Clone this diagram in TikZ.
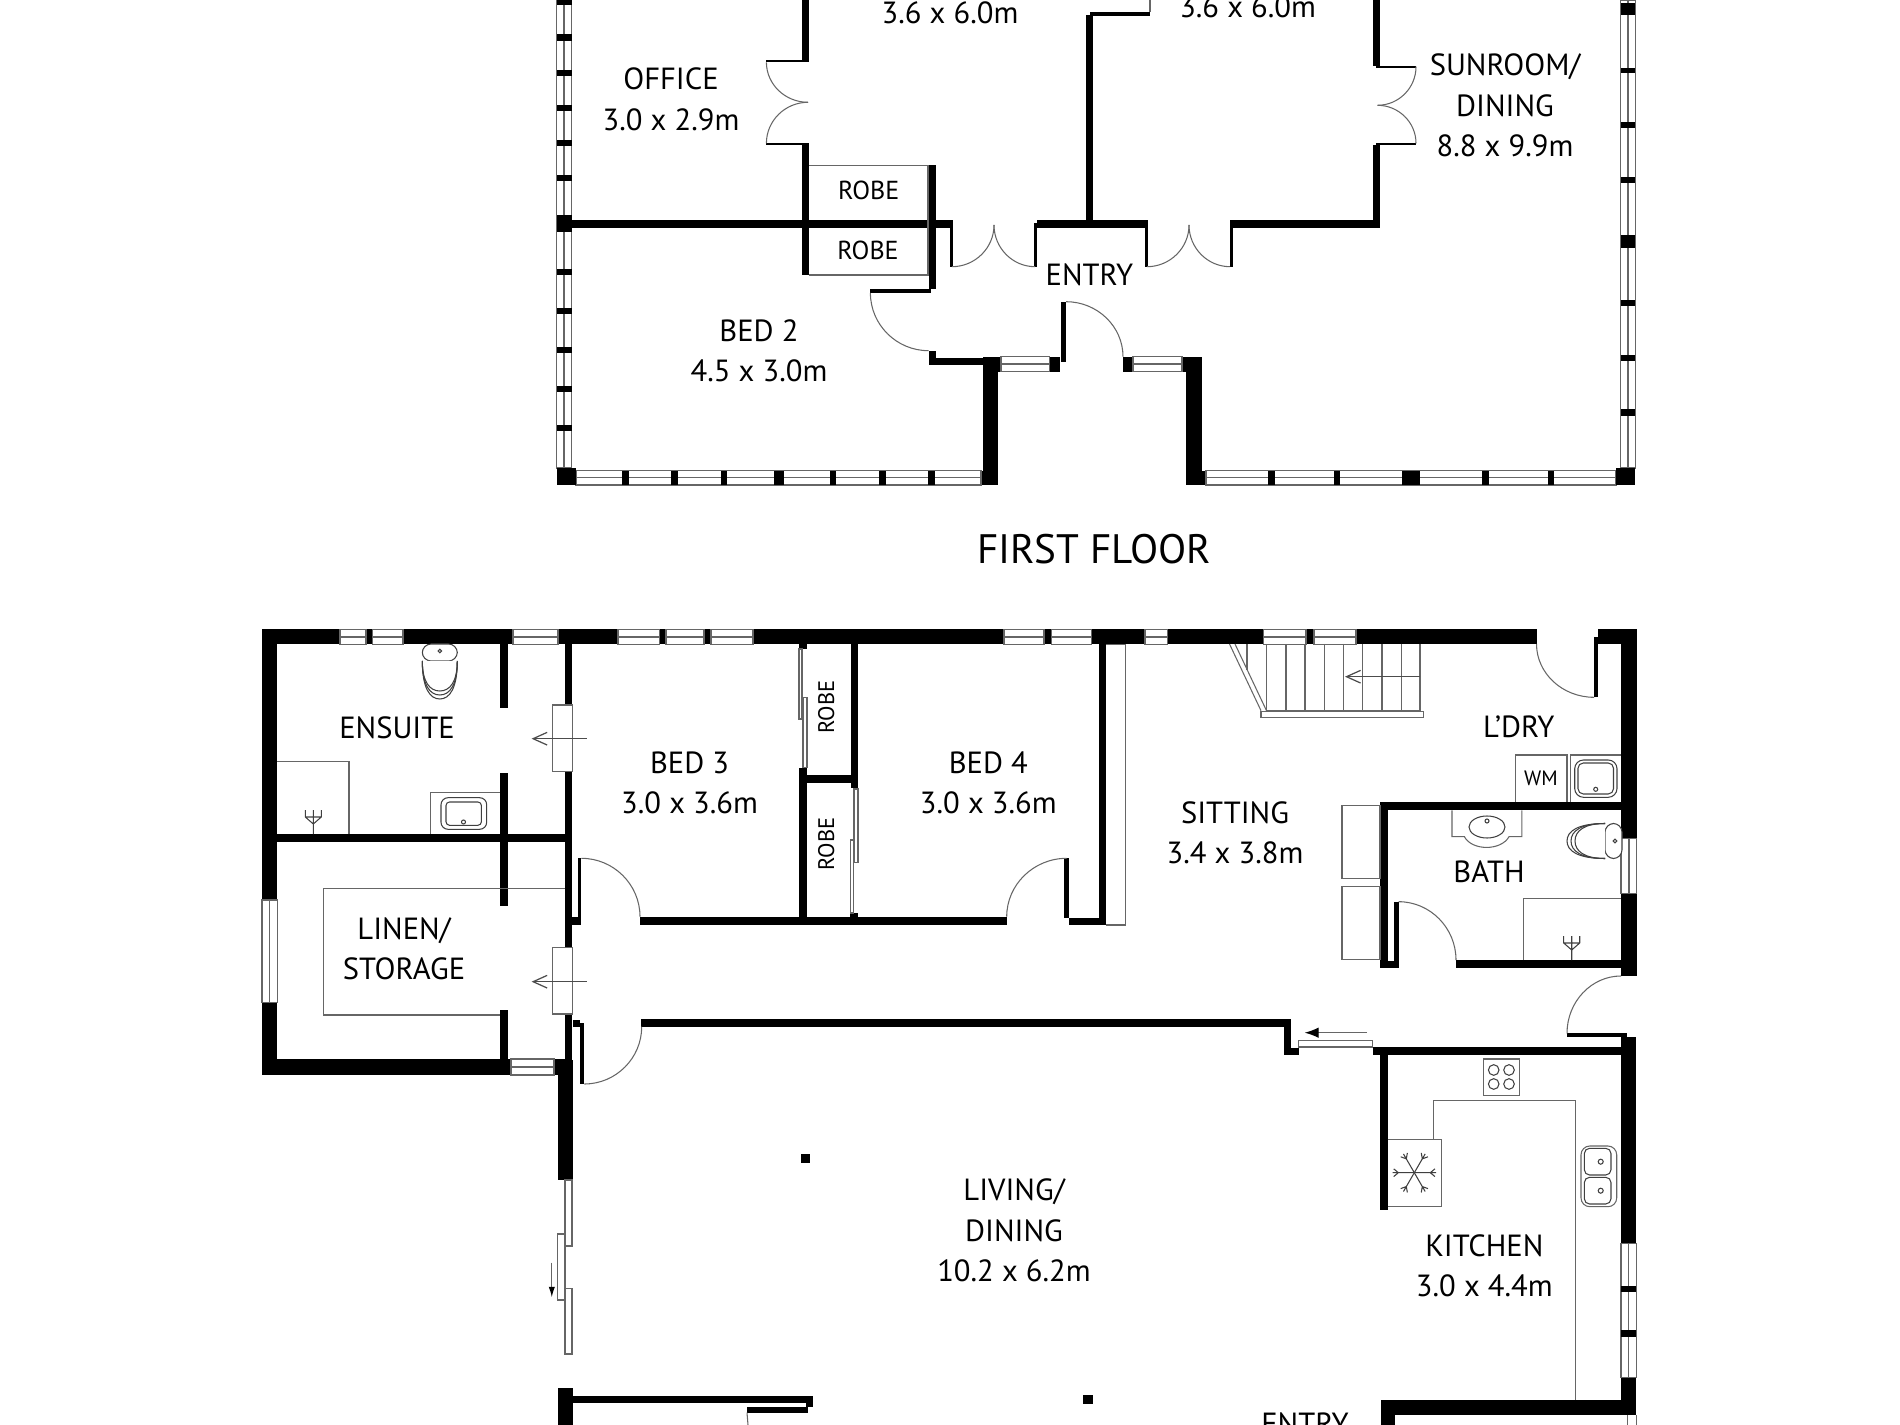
\documentclass[tikz,border=0pt]{standalone}
\usepackage{fontspec}
\setmainfont{PT Sans}
\usetikzlibrary{arrows.meta}

\tikzset{
	wall/.style={fill=black},
	fine/.style={draw=black!60,line width=0.3pt},
	glass/.style={draw=black!60,line width=0.3pt,fill=white},
	fixture/.style={draw=black!75,line width=0.3pt},
	room/.style={inner sep=0pt,align=center,font=\fontsize{8.7}{11.5}\selectfont},
	small room/.style={inner sep=0pt,font=\fontsize{7.4}{9}\selectfont},
	side room/.style={inner sep=0pt,font=\fontsize{6.4}{8}\selectfont},
	barb/.style={draw=black!70,line width=0.35pt,-{Straight Barb[length=4pt,width=3.6pt]}},
	slide/.style={draw=black!60,line width=0.35pt,-{Latex[black,length=4pt,width=3pt]}}
}
% door leaf: leaves the first point upright, lands on the second level
\newcommand{\swing}[4]{\draw[fine] (#1,#2) .. controls (#1,{#2+.55*(#4-#2)}) and ({#3-.55*(#3-#1)},#4) .. (#3,#4);}
\newcommand{\showerhead}[2]{\draw[fixture] (#1,#2) -- (#1,{#2-10}) -- ({#1-8},{#2-17}) -- ({#1-8},{#2-24}) (#1,{#2-10}) -- ({#1+8},{#2-17}) -- ({#1+8},{#2-24}) (#1,{#2-10}) -- (#1,{#2-24}) ({#1-8},{#2-17}) -- ({#1+8},{#2-17});}
\newcommand{\loo}{%
	\draw[fixture,rounded corners=2.5pt,fill=white] (-17.5,-16) rectangle (17.5,1);
	\draw[fixture,fill=white] (-17.5,1) .. controls (-17.5,28) and (-10,39) .. (0,39) .. controls (10,39) and (17.5,28) .. (17.5,1);
	\draw[fixture] (-17.5,1) .. controls (-17.5,25) and (-10,35) .. (0,35) .. controls (10,35) and (17.5,25) .. (17.5,1);
	\draw[fixture] (-17.5,1) .. controls (-17.5,22) and (-10,31) .. (0,31) .. controls (10,31) and (17.5,22) .. (17.5,1);
	\draw[fixture] (0,-9) circle (1.8);}

\begin{document}
\begin{tikzpicture}[x=0.01cm,y=-0.01cm]
	\useasboundingbox (0,0) rectangle (1900,1425);

	% first floor walls
	\foreach \xa/\ya/\xb/\yb in {983/356.7/997.5/485,981/470.7/997.5/485,983/356.7/1001/371.7,
		928.5/350.7/936/365,928.5/358/983/365,870.4/288.7/931/293.3,928.5/165/936/288.7,
		571.7/220/950/227.7,950/220/953/266.7,1034.4/223/1037.4/266.7,
		1037/220/1145/227.7,1145/220/1148/266.7,1085.5/15/1093/220,1090/11.7/1150/16,
		802.4/0/809/61.7,766/60/809/62.3,766/142.7/809/145,802.4/145/809/275,
		1061/301.7/1066/361.7,1049.5/356.7/1060.4/371.7,1123/356.7/1133/371.7,
		1182/356.7/1201.7/372,1186/372/1201.7/485,1186/470.7/1206/485,
		1229.5/220/1232.5/266.7,1232.5/220/1380/227.7,1372.6/145/1380/227.7,
		1375.6/143.3/1416/145.3,1375.6/65.7/1416/67.7,1372.6/0/1380/65.7}
		\fill[wall] (\xa,\ya) rectangle (\xb,\yb);

	% first floor windows
	\draw[glass] (556.5,0) rectangle (571.7,468) (564,0) -- (564,468);
	\draw[glass] (1620.5,0) rectangle (1635.3,468) (1628,0) -- (1628,468);
	\draw[glass] (576,470.7) rectangle (981,485) (576,477.7) -- (981,477.7);
	\draw[glass] (1206,470.7) rectangle (1616,485) (1206,477.7) -- (1616,477.7);
	\draw[glass] (1001,356.7) rectangle (1049.5,371.7) (1001,364) -- (1049.5,364);
	\draw[glass] (1133,356.7) rectangle (1182,371.7) (1133,364) -- (1182,364);
	\foreach \ya in {1.7,37.7,73,108,143,178,272,311,350,389,428}
		\fill[wall] (556.5,\ya-3.3) rectangle (571.7,\ya+3.3);
	\fill[wall] (556.5,215) rectangle (571.7,232);
	\foreach \ya/\yb in {3/15,67.7/73.3,122/128,177/183,235/248,300/306,355/361,409/416}
		\fill[wall] (1620.5,\ya) rectangle (1635.3,\yb);
	\foreach \xa/\xb in {622.4/629,671.4/678,720.8/727.3,774/783.7,829.7/836.2,879/885.6,928/934.6,
		1268/1274.6,1334/1340,1402/1420,1482/1489,1547.6/1554}
		\fill[wall] (\xa,470.7) rectangle (\xb,485);
	\fill[wall] (556.5,468) rectangle (576,485);
	\fill[wall] (1616,468) rectangle (1635.3,485);

	% robes, doors
	\draw[fine] (809,165.7) -- (928.5,165.7) (928,165.7) -- (928,275) (809,275) -- (928.5,275);
	\draw[fine] (1150,0) -- (1150,11.7);
	\swing{766.4}{62.3}{808}{102.3}
	\swing{766.4}{143.3}{808}{102.3}
	\swing{994}{225}{952}{266.7}
	\swing{994}{225}{1035}{266.7}
	\swing{1189}{225}{1147}{266.7}
	\swing{1189}{225}{1230}{266.7}
	\swing{1416}{143.3}{1377.5}{105.3}
	\swing{1416}{66.7}{1377.5}{105.3}
	\swing{870.4}{293}{928.5}{350.7}
	\swing{1123}{356.7}{1066}{301.7}

	\node[room] (masterlabel) at (950,13) {3.6 x 6.0m};
	\node[room] (bedonelabel) at (1247.6,7) {3.6 x 6.0m};
	\node[room] (office) at (671,99.5) {OFFICE\\3.0 x 2.9m};
	\node[room] (sunroom) at (1505,105.5) {SUNROOM/\\DINING\\8.8 x 9.9m};
	\node[small room] (robea) at (868.7,190) {ROBE};
	\node[small room] (robeb) at (868,250) {ROBE};
	\node[room] (entryup) at (1089.4,275) {ENTRY};
	\node[room] (bedtwo) at (759,351) {BED 2\\4.5 x 3.0m};
	\node[inner sep=0pt,font=\fontsize{11.7}{13}\selectfont] (firstfloor) at (1094,549) {FIRST FLOOR};

	% ground floor walls
	\foreach \xa/\ya/\xb/\yb in {262/629.3/1536.5/644.3,1598/629.3/1636.5/644.3,262/629.3/277.3/1075,
		262/1059/511/1075,554/1059/572.4/1075,500/644/508/707.7,500/773/508/906,500/1010/508/1060,
		277/834/565/842.3,565/644/572.4/705,565/771.7/572.4/947.3,565/1014/572.4/1060,
		577.8/858/581.4/918,565/916.7/581.4/925,640/916.7/1006.7/925,799/768/807/917,799/644/807/649.3,
		850.7/644/858.3/788,806/775/851/783.3,850.3/913/858/917,1064/858/1069/918,1069/918/1106/925,
		1098.7/644/1106/925,641/1019/1291/1027,1284/1019/1291/1055,1284/1047.7/1298.7/1055,
		1372.7/1047/1621/1055,1380/1055/1388/1210,1380/802.3/1621/810.3,1380/802.3/1388/967.7,
		1394/901.7/1398.6/961.7,1380/960.7/1398.6/967.7,1456/960/1621/967.7,1621/629.3/1636.5/976,
		1594/637/1598.3/697.3,1567/1033.3/1627/1037.3,1621/1037.3/1636.3/1415,1380.7/1400/1636.3/1415,
		1380.7/1400/1395/1425,557.5/1060/573/1180,573/1020/580/1026.7,580/1023.3/584.3/1084,
		557.5/1387.7/573/1425,573/1395.7/813/1403.3,805.5/1395.7/813/1407.3,747/1407.3/807.5/1412.7,
		801/1154.3/810/1163.3,1083.4/1395/1092.6/1404}
		\fill[wall] (\xa,\ya) rectangle (\xb,\yb);

	% ground floor windows
	\foreach \xa/\xb in {340/366,372.4/403,513/558,618/659.4,666/704,711/753,1004/1044,1051.7/1091.7,
		1145/1167.3,1263.5/1306,1314/1356}
		\draw[glass] (\xa,629.3) rectangle (\xb,644.3) (\xa,637) -- (\xb,637);
	\draw[glass] (262,900) rectangle (277.3,1002.7) (269.5,900) -- (269.5,1002.7);
	\draw[glass] (511,1059) rectangle (554,1075) (511,1067) -- (554,1067);
	\draw[glass] (1621,838.3) rectangle (1636.5,893.3) (1629,838.3) -- (1629,893.3);
	\draw[glass] (1621,1243.3) rectangle (1636.3,1377.7) (1628.3,1243.3) -- (1628.3,1377.7);
	\fill[wall] (1621,1285.7) rectangle (1636.3,1292);
	\fill[wall] (1621,1330) rectangle (1636.3,1336.7);
	\draw[fine] (1627.7,1415) -- (1627.7,1425) (1636.3,1415) -- (1636.3,1425);

	% sliding panels
	\foreach \xa/\ya/\xb/\yb in {552.4/705/572.4/771.7,552.4/947.3/572.4/1014,799/649/802/719,803/697.7/807/767.7,
		854/789/858/862.7,850.3/840/853.7/913,1298.7/1040.7/1372.7/1047,565/1180/572/1246,557.5/1234/565/1300,
		565/1288.3/572/1354}
		\draw[glass] (\xa,\ya) rectangle (\xb,\yb);
	\draw[barb] (586.7,738.7) -- (531.6,738.7);
	\draw[barb] (586.7,981.7) -- (531.6,981.7);
	\draw[slide] (1367,1032.7) -- (1304.6,1032.7);
	\draw[slide,-{Latex[black,length=3pt,width=1.8pt]}] (551.8,1262.7) -- (551.8,1297.3);

	% swing doors
	\swing{640}{916.7}{581.4}{858.3}
	\swing{1006.7}{916.7}{1066.7}{858.3}
	\swing{1536.5}{644}{1594}{697.3}
	\swing{1456}{960}{1398.6}{901.7}
	\swing{1567}{1033.3}{1621}{976}
	\swing{641.7}{1026.7}{584.3}{1084}
	\draw[fine] (747,1412.7) -- (748,1425);

	% stairs
	\draw[fine] (1247,644) -- (1247,670);
	\foreach \xa in {1266.5,1286,1305,1324.6,1343.4,1362.7,1382,1401.5,1420}
		\draw[fine] (\xa,644) -- (\xa,710.7);
	\draw[fine] (1229.5,644) -- (1261,710.7) (1235,644) -- (1266.5,710.7);
	\draw[fine] (1266.5,710.7) -- (1420,710.7);
	\draw[glass] (1261,711.7) rectangle (1423.7,717.3);
	\draw[barb] (1420,676.7) -- (1345,676.7);

	% fittings
	\draw[fine] (1106,644.3) -- (1125.3,644.3) -- (1125.3,925) -- (1106,925);
	\draw[fine] (565,888.3) -- (323.5,888.3) -- (323.5,1015) -- (500,1015);
	\draw[fine] (277.3,761.3) -- (349,761.3) -- (349,834);
	\showerhead{313.3}{834}
	\draw[fine] (430.4,834) -- (430.4,792.3) -- (500,792.3);
	\draw[fixture,rounded corners=2pt] (441,797.7) rectangle (486.7,829.3);
	\draw[fixture,rounded corners=1pt] (446,802) rectangle (481.4,825.3);
	\draw[fixture] (463.5,822) circle (2);
	\begin{scope}[shift={(439.8,660)}]
		\loo
	\end{scope}

	\draw[fine] (1515.5,802) -- (1515.5,755) -- (1567,755) -- (1567,802);
	\draw[fine] (1570.6,802) -- (1570.6,755) -- (1621,755);
	\draw[fixture,rounded corners=2.5pt] (1574.7,760) rectangle (1617,797.3);
	\draw[fixture,rounded corners=1.5pt] (1578,763) rectangle (1613.5,794);
	\draw[fixture] (1595.7,789.3) circle (2);
	\draw[fine] (1342,805.7) rectangle (1380,878.3);
	\draw[fine] (1342,886.7) rectangle (1380,959.3);
	\draw[fine] (1452,810.3) -- (1452,836.7) -- (1464.4,836.7) .. controls (1472,851) and (1501,851) .. (1509,836.7) -- (1521.8,836.7) -- (1521.8,810.3);
	\draw[fixture] (1487,827) ellipse (18 and 11);
	\draw[fixture] (1487,821) circle (2);
	\begin{scope}[shift={(1606,841)},rotate=-90]
		\loo
	\end{scope}
	\draw[fine] (1523.6,960) -- (1523.6,898.3) -- (1621,898.3);
	\showerhead{1571.7}{960}

	\draw[fine] (1483.3,1059) rectangle (1519.7,1095.3);
	\foreach \xa/\ya in {1493.7/1070,1509/1070,1493.7/1084,1509/1084}
		\draw[fixture] (\xa,\ya) circle (5.3);
	\draw[fine] (1433.3,1139.3) -- (1433.3,1100.3) -- (1575.3,1100.3) -- (1575.3,1400);
	\draw[fine] (1387.7,1139.3) -- (1441.7,1139.3) -- (1441.7,1206.7) -- (1387.7,1206.7);
	\begin{scope}[shift={(1414.3,1172.7)}]
		\foreach \a in {0,60,...,300}
			\draw[fixture] (0,0) -- (\a:21.7) (\a:16) -- ++({\a+40}:6) (\a:16) -- ++({\a-40}:6);
	\end{scope}
	\draw[fine,rounded corners=2.5pt] (1581,1146) rectangle (1616.7,1206.7);
	\draw[fixture,rounded corners=1.5pt] (1584.3,1148.3) rectangle (1611,1175);
	\draw[fixture,rounded corners=1.5pt] (1584.3,1177.3) rectangle (1611,1204);
	\draw[fixture] (1600.7,1161.7) circle (2.5);
	\draw[fixture] (1600.7,1190.7) circle (2.5);

	\node[room] (ensuite) at (397,727.7) {ENSUITE};
	\node[room] (bedthree) at (689.6,782.8) {BED 3\\3.0 x 3.6m};
	\node[room] (bedfour) at (988.3,782.8) {BED 4\\3.0 x 3.6m};
	\node[side room,rotate=90] (robec) at (826.3,707.3) {ROBE};
	\node[side room,rotate=90] (robed) at (826.3,844) {ROBE};
	\node[room] (linen) at (404,948.8) {LINEN/\\STORAGE};
	\node[room] (sitting) at (1235,832.8) {SITTING\\3.4 x 3.8m};
	\node[room] (laundry) at (1518.8,726.7) {L’DRY};
	\node[inner sep=0pt,font=\fontsize{5.9}{7}\selectfont] (wm) at (1541,778) {WM};
	\node[room] (bath) at (1489,872) {BATH};
	\node[room] (living) at (1014,1230.5) {LIVING/\\DINING\\10.2 x 6.2m};
	\node[room] (kitchen) at (1484.3,1266) {KITCHEN\\3.0 x 4.4m};
	\node[room] (entrydown) at (1305,1423.5) {ENTRY};
\end{tikzpicture}
\end{document}
